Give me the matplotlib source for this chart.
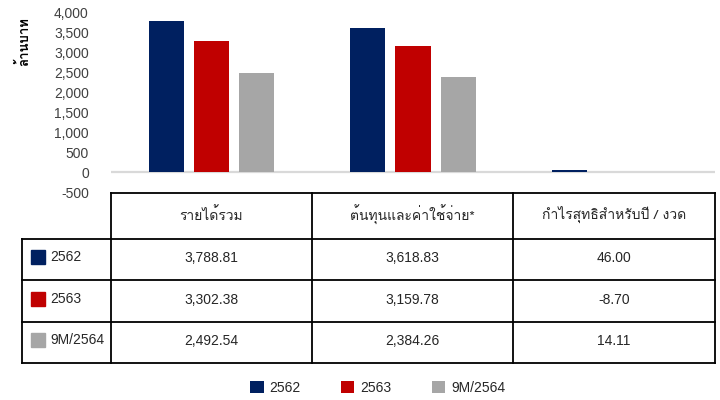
import matplotlib
matplotlib.use('Agg')
import matplotlib.pyplot as plt
from matplotlib import font_manager
from matplotlib.ft2font import FT2Font
from matplotlib.patches import Rectangle


# data
categories = ['รายได้รวม', 'ต้นทุนและค่าใช้จ่าย*', 'กำไรสุทธิสำหรับปี / งวด']
series_names = ['2562', '2563', '9M/2564']
values_2562 = [3788.81, 3618.83, 46.00]
values_2563 = [3302.38, 3159.78, -8.70]
values_9m2564 = [2492.54, 2384.26, 14.11]
colors = ['#002060', '#C00000', '#A6A6A6']
y_ticks = [-500, 0, 500, 1000, 1500, 2000, 2500, 3000, 3500, 4000]
y_label = 'ล้านบาท'

all_values = [values_2562, values_2563, values_9m2564]


def find_thai_font():
    # first installed family that has Thai glyphs
    for f in font_manager.fontManager.ttflist:
        try:
            if 0x0E01 in FT2Font(f.fname).get_charmap():
                return f.name
        except Exception:
            pass
    return 'DejaVu Sans'


thai_font = find_thai_font()
plt.rcParams['font.family'] = ['Liberation Sans', thai_font, 'DejaVu Sans']
thai_family = [thai_font, 'Liberation Sans', 'DejaVu Sans']

W, H = 720, 400
fig = plt.figure(figsize=(7.2, 4.0), dpi=100)

# chart area (pixel geometry of the reference)
left, right, top, bottom = 111, 715, 13, 192
ax = fig.add_axes([left / W, 1 - bottom / H, (right - left) / W, (bottom - top) / H])

bar_w = 0.174
offsets = [-0.224, 0, 0.224]
x = list(range(len(categories)))
for vals, off, col, name in zip(all_values, offsets, colors, series_names):
    ax.bar([i + off for i in x], vals, width=bar_w, color=col, label=name, zorder=3)

ax.axhline(0, color='#D9D9D9', lw=1.6, zorder=2)
ax.set_xlim(-0.5, len(categories) - 0.5)
ax.set_ylim(-500, 4000)
ax.set_yticks(y_ticks)
ax.set_yticklabels([f'{t:,}' for t in y_ticks])
ax.set_xticks([])
ax.tick_params(axis='y', length=0, pad=16, labelsize=10, labelcolor='#404040')
for s in ax.spines.values():
    s.set_visible(False)

fig.text(24 / W, 1 - 42 / H, y_label, rotation=90, ha='center', va='center',
         fontsize=9.5, fontweight='bold', family=thai_family)

# table drawn in pixel coordinates
tb = fig.add_axes([0, 0, 1, 1], zorder=-1)
tb.set_xlim(0, W)
tb.set_ylim(H, 0)
tb.axis('off')

col_x = [22, 111, 312, 513, 715]
row_y = [193, 238.5, 280, 321.5, 363]
lw = 1.3

# header row (no label cell)
tb.plot([col_x[1], col_x[-1]], [row_y[0], row_y[0]], color='black', lw=lw)
for r in row_y[1:]:
    tb.plot([col_x[0], col_x[-1]], [r, r], color='black', lw=lw)
tb.plot([col_x[0], col_x[0]], [row_y[1], row_y[-1]], color='black', lw=lw)
for cx in col_x[1:]:
    tb.plot([cx, cx], [row_y[0], row_y[-1]], color='black', lw=lw)

for j, cat in enumerate(categories):
    cx = (col_x[j + 1] + col_x[j + 2]) / 2
    tb.text(cx, (row_y[0] + row_y[1]) / 2 - 1, cat, ha='center', va='center',
            fontsize=10, color='#262626', family=thai_family)

for i, (name, vals, col) in enumerate(zip(series_names, all_values, colors)):
    cy = (row_y[i + 1] + row_y[i + 2]) / 2 - 2
    tb.add_patch(Rectangle((31, cy - 7), 14, 14, color=col))
    tb.text(50, cy, name, ha='left', va='center', fontsize=10, color='#262626')
    for j, v in enumerate(vals):
        cx = (col_x[j + 1] + col_x[j + 2]) / 2
        tb.text(cx, cy + 1, f'{v:,.2f}', ha='center', va='center',
                fontsize=10, color='#262626')

# legend at the bottom
fig.legend(loc='center', bbox_to_anchor=(378 / W, 1 - 388 / H), ncol=3,
           frameon=False, fontsize=10, handlelength=0.95, handleheight=0.95,
           handletextpad=0.45, columnspacing=2.9, labelcolor='#262626')

fig.savefig('out.png', dpi=100)
